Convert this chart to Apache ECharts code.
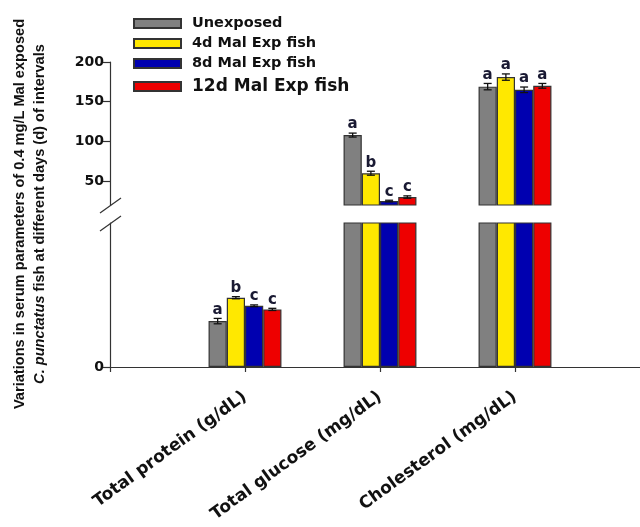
<!DOCTYPE html>
<html>
<head>
<meta charset="utf-8">
<script src="https://cdn.jsdelivr.net/npm/echarts@6/dist/echarts.min.js"></script>
<style>
  html, body { margin: 0; padding: 0; background: #ffffff; }
  #chart { width: 640px; height: 527px; }
</style>
</head>
<body>
<div id="chart"></div>
<script>
// Serum parameters of C. punctatus after Mal exposure
const categories = ['Total protein (g/dL)', 'Total glucose (mg/dL)', 'Cholesterol (mg/dL)'];
const groupNames = ['Unexposed', '4d Mal Exp fish', '8d Mal Exp fish', '12d Mal Exp fish'];

const unexposed = [2.55, 108, 169];
const exp4d = [3.85, 60, 181];
const exp8d = [3.4, 25, 165];
const exp12d = [3.2, 30, 170];

const errUnexposed = [0.15, 2.5, 4];
const err4d = [0.06, 2.5, 4];
const err8d = [0.05, 1, 3.5];
const err12d = [0.06, 1.5, 3];

const lettersUnexposed = ['a', 'a', 'a'];
const letters4d = ['b', 'b', 'a'];
const letters8d = ['c', 'c', 'a'];
const letters12d = ['c', 'c', 'a'];

// broken value axis: upper and lower segments
const upperRange = [20, 200];
const upperTicks = [50, 100, 150, 200];
const lowerRange = [0, 8];
const lowerTicks = [0];

const colors = ['#808080', '#ffe800', '#0000b0', '#ee0000'];
const values = [unexposed, exp4d, exp8d, exp12d];
const errors = [errUnexposed, err4d, err8d, err12d];
const letters = [lettersUnexposed, letters4d, letters8d, letters12d];

// category slots, with an empty slot at each end of the axis
const axisCats = [''].concat(categories, ['']);

const GAP = 0.46;
const boldFont = 'DejaVu Sans';
const textColor = '#111111';
const letterColor = '#1a1a33';

const layout = {
  left: 110, width: 540,
  upperTop: 62, upperHeight: 143,
  lowerTop: 223, lowerHeight: 144
};

function inUpper(v) { return v >= upperRange[0]; }
function inLower(v) { return v <= lowerRange[1]; }

function barSeries(gridIdx, keep) {
  return values.map((arr, s) => ({
    name: groupNames[s],
    type: 'bar',
    xAxisIndex: gridIdx, yAxisIndex: gridIdx,
    barGap: '0%', barCategoryGap: (GAP * 100) + '%',
    clip: true,
    itemStyle: { color: colors[s], borderColor: '#333333', borderWidth: 1.2 },
    emphasis: { disabled: true },
    data: [null].concat(arr.map(v => (gridIdx === 0 ? (keep(v) ? v : null) : v)), [null])
  }));
}

function errorSeries(gridIdx, keep) {
  const items = [];
  values.forEach((arr, s) => {
    arr.forEach((v, c) => {
      if (keep(v)) items.push({ cat: c + 1, s: s, v: v, e: errors[s][c], t: letters[s][c] });
    });
  });
  return {
    type: 'custom',
    xAxisIndex: gridIdx, yAxisIndex: gridIdx,
    z: 5,
    silent: true,
    data: items.map(d => [d.cat, d.v, d.e, d.s]),
    renderItem: function (params, api) {
      const d = items[params.dataIndex];
      const band = api.size([1, 0])[0];
      const bw = band * (1 - GAP) / 4;
      const base = api.coord([d.cat, d.v]);
      const x = base[0] + (d.s - 1.5) * bw;
      const yHi = api.coord([d.cat, d.v + d.e])[1];
      const yLo = api.coord([d.cat, d.v - d.e])[1];
      const cap = 4;
      const st = { stroke: '#111111', lineWidth: 1.3 };
      return {
        type: 'group',
        children: [
          { type: 'line', shape: { x1: x, y1: yLo, x2: x, y2: yHi }, style: st },
          { type: 'line', shape: { x1: x - cap, y1: yHi, x2: x + cap, y2: yHi }, style: st },
          { type: 'line', shape: { x1: x - cap, y1: yLo, x2: x + cap, y2: yLo }, style: st },
          {
            type: 'text',
            style: {
              text: d.t, x: x, y: yHi - 1,
              align: 'center', verticalAlign: 'bottom',
              fill: letterColor, font: 'bold 15px "' + boldFont + '"'
            }
          }
        ]
      };
    }
  };
}

const chart = echarts.init(document.getElementById('chart'), null, { renderer: 'canvas' });

const upperBottom = layout.upperTop + layout.upperHeight;
const ax = layout.left + 1;
const slashStyle = { stroke: '#333333', lineWidth: 1.2 };

const legendRows = [
  { top: 16, size: 14.5 },
  { top: 36, size: 14.5 },
  { top: 56, size: 14.5 },
  { top: 78, size: 17 }
];

const option = {
  backgroundColor: '#ffffff',
  animation: false,
  legend: groupNames.map((n, i) => ({
    data: [n],
    left: 133, top: legendRows[i].top,
    padding: 0,
    icon: 'rect',
    itemWidth: 47, itemHeight: 9, itemGap: 10,
    selectedMode: false,
    textStyle: { fontFamily: boldFont, fontWeight: 'bold', fontSize: legendRows[i].size, color: textColor, padding: [0, 0, 0, 6] }
  })),
  grid: [
    { left: layout.left, width: layout.width, top: layout.upperTop, height: layout.upperHeight, outerBoundsMode: 'none', containLabel: false },
    { left: layout.left, width: layout.width, top: layout.lowerTop, height: layout.lowerHeight, outerBoundsMode: 'none', containLabel: false }
  ],
  xAxis: [
    { type: 'category', gridIndex: 0, data: axisCats, boundaryGap: false, show: false },
    {
      type: 'category', gridIndex: 1, data: axisCats, boundaryGap: false,
      axisLine: { lineStyle: { color: '#333333', width: 1.2 } },
      axisTick: { show: true, length: 5, lineStyle: { color: '#333333', width: 1.2 } },
      axisLabel: {
        interval: 0, rotate: 36, margin: 28,
        fontFamily: boldFont, fontWeight: 'bold', fontSize: 17, color: textColor
      }
    }
  ],
  yAxis: [
    {
      type: 'value', gridIndex: 0, min: upperRange[0], max: upperRange[1],
      splitLine: { show: false },
      axisLine: { show: true, lineStyle: { color: '#333333', width: 1.2 } },
      axisTick: { show: true, length: 7, customValues: upperTicks, lineStyle: { color: '#333333', width: 1.2 } },
      axisLabel: { customValues: upperTicks, margin: 6, fontFamily: boldFont, fontWeight: 'bold', fontSize: 14, color: textColor }
    },
    {
      type: 'value', gridIndex: 1, min: lowerRange[0], max: lowerRange[1],
      splitLine: { show: false },
      axisLine: { show: true, lineStyle: { color: '#333333', width: 1.2 } },
      axisTick: { show: true, length: 7, customValues: lowerTicks, lineStyle: { color: '#333333', width: 1.2 } },
      axisLabel: { customValues: lowerTicks, margin: 6, fontFamily: boldFont, fontWeight: 'bold', fontSize: 14, color: textColor }
    }
  ],
  graphic: [
    // axis break marks
    { type: 'line', shape: { x1: ax - 11, y1: upperBottom + 8, x2: ax + 10, y2: upperBottom - 7 }, style: slashStyle, silent: true },
    { type: 'line', shape: { x1: ax - 11, y1: layout.lowerTop + 8, x2: ax + 10, y2: layout.lowerTop - 7 }, style: slashStyle, silent: true },
    // value axis title
    {
      type: 'text', x: 30, y: 214, rotation: Math.PI / 2, silent: true,
      style: {
        text: 'Variations in serum parameters of 0.4 mg/L Mal exposed\n{i|C. punctatus} fish at different days (d) of intervals',
        align: 'center', verticalAlign: 'middle',
        fill: textColor, lineHeight: 20,
        font: 'bold 14.6px "Liberation Sans"',
        rich: { i: { fontStyle: 'italic', fontWeight: 'bold', fontSize: 14.6, fontFamily: 'Liberation Sans', fill: textColor } }
      }
    }
  ],
  series: [].concat(
    barSeries(0, inUpper),
    barSeries(1, inLower),
    [errorSeries(0, inUpper), errorSeries(1, inLower)]
  )
};

chart.setOption(option);
</script>
</body>
</html>
